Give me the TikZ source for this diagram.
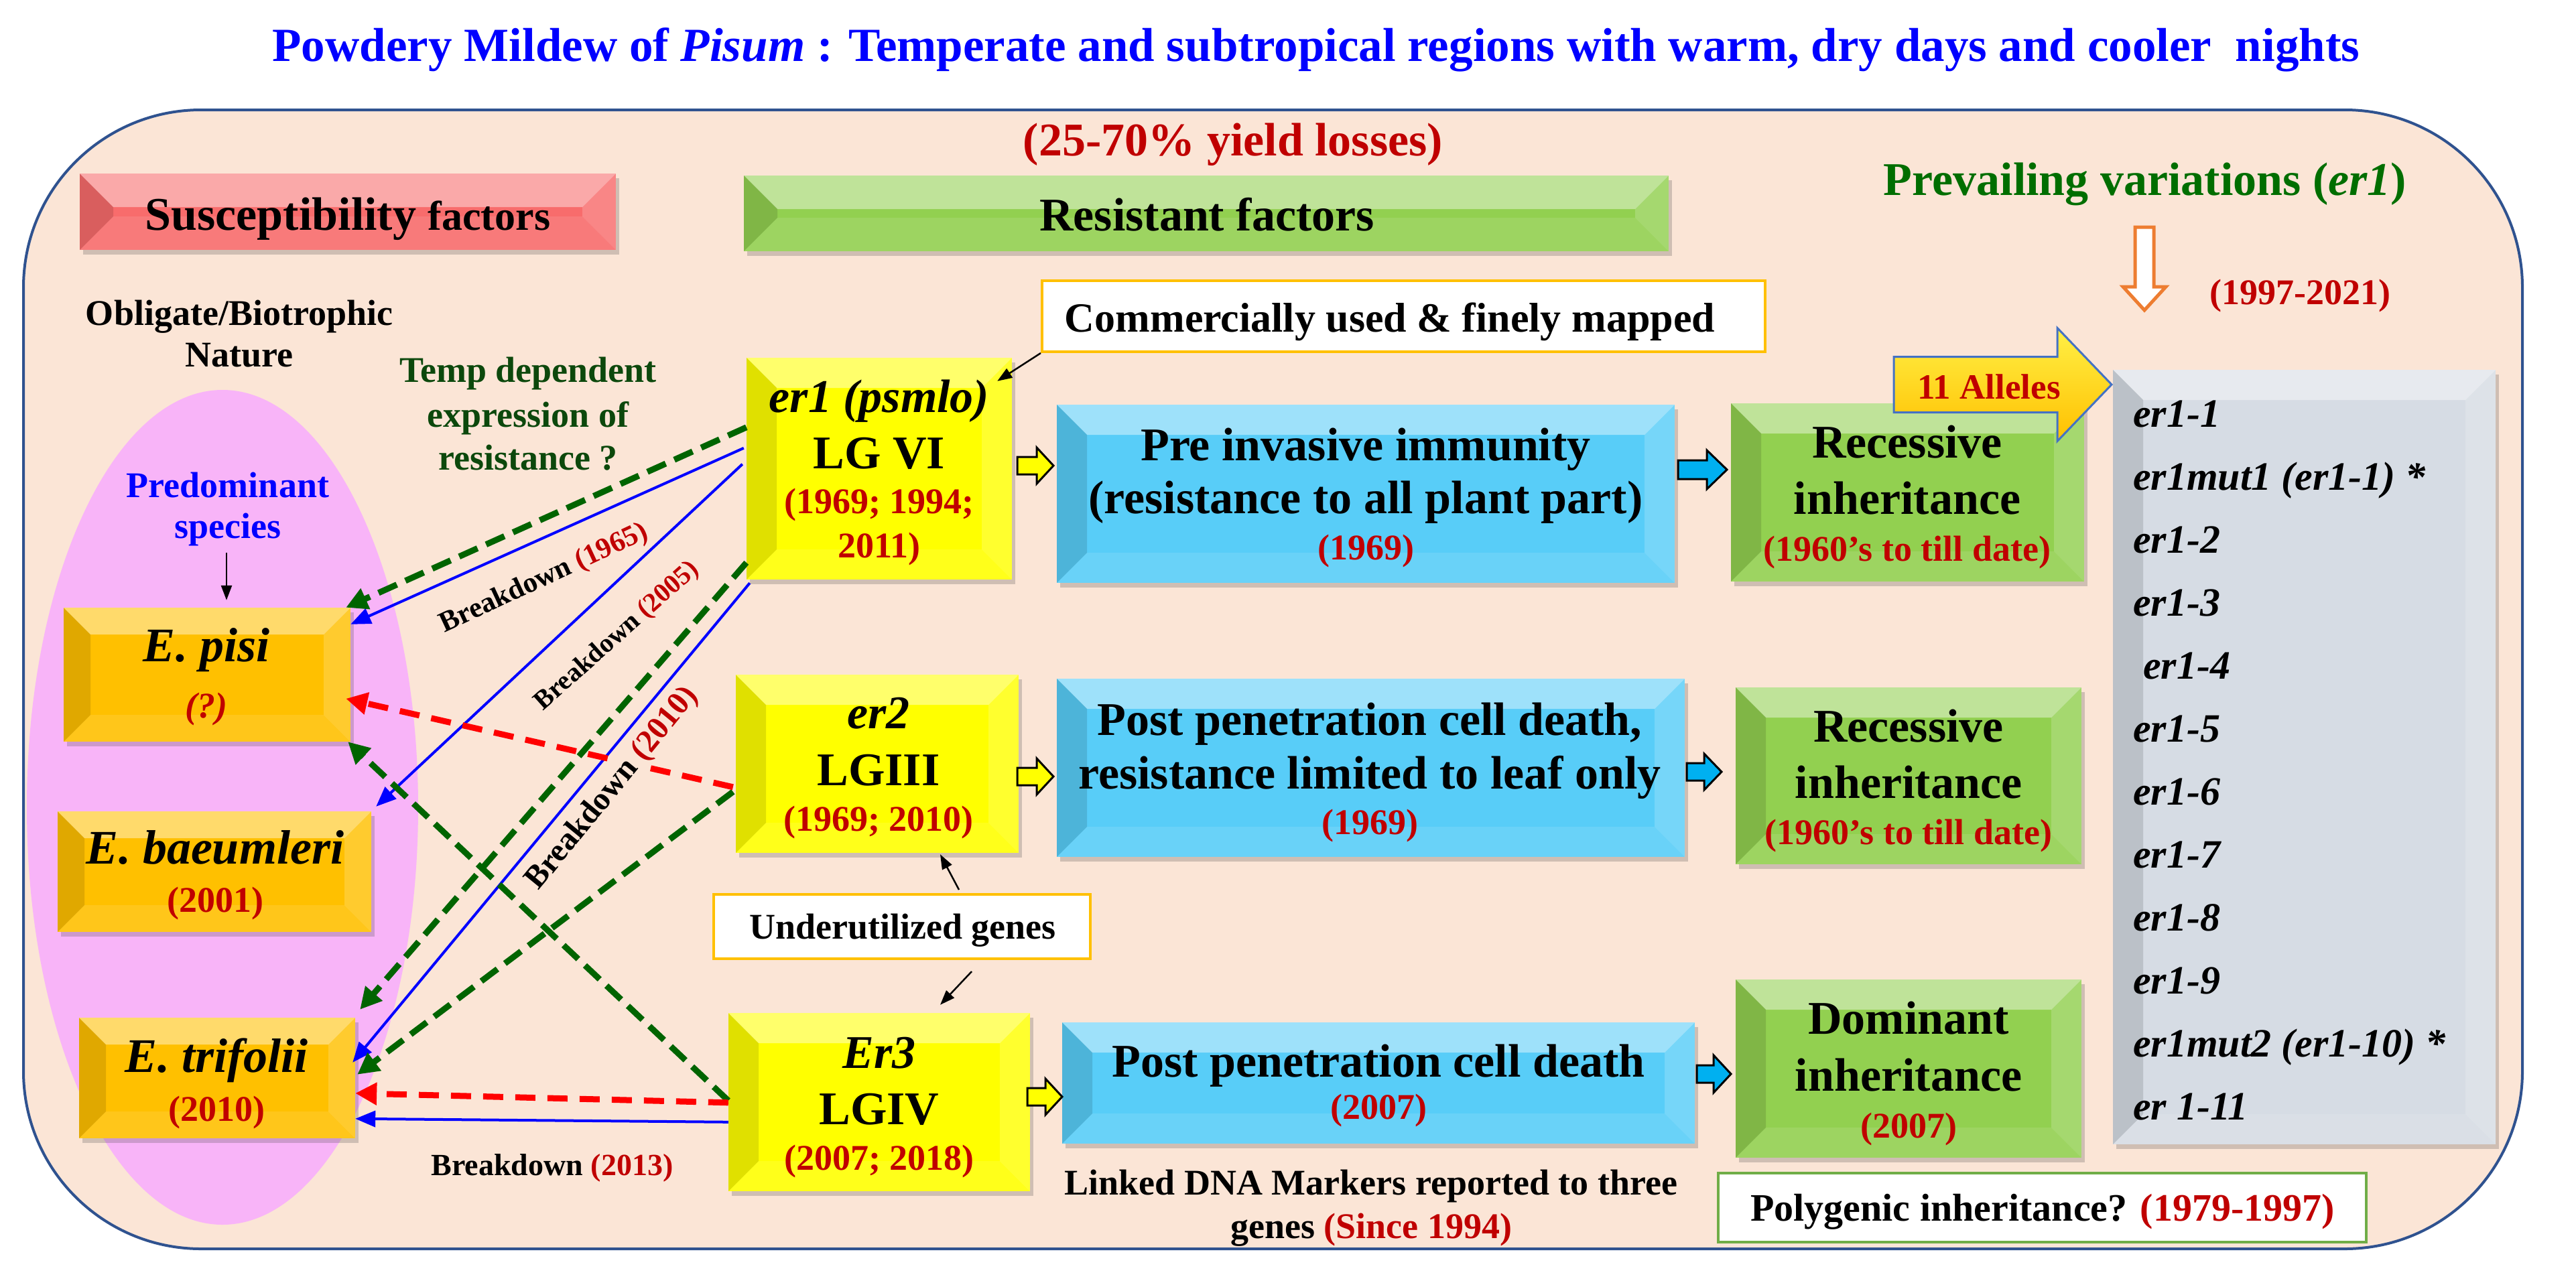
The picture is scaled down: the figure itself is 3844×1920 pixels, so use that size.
\documentclass[tikz,border=0pt]{standalone}
\usepackage{fontspec}
\setmainfont{Liberation Serif}
\usetikzlibrary{arrows.meta,shadows,calc}
\definecolor{tblue}{RGB}{0,0,255}
\definecolor{dred}{RGB}{192,0,0}
\definecolor{peach}{RGB}{251,229,214}
\definecolor{frameblue}{RGB}{47,82,143}
\definecolor{pgreen}{RGB}{0,110,0}
\definecolor{tgreen}{RGB}{12,72,12}
\definecolor{dgreen}{RGB}{0,100,0}
\definecolor{rdashc}{RGB}{255,0,0}
\definecolor{ybox}{RGB}{255,255,0}
\definecolor{cbox}{RGB}{88,205,248}
\definecolor{gbox}{RGB}{146,208,80}
\definecolor{rbox}{RGB}{248,108,108}
\definecolor{obox}{RGB}{255,192,0}
\definecolor{sbox}{RGB}{214,220,228}
\definecolor{pinkc}{RGB}{248,180,248}
\definecolor{oarrow}{RGB}{237,125,49}
\definecolor{ablue}{RGB}{68,114,196}
\definecolor{cyarrow}{RGB}{0,176,240}
\definecolor{borderY}{RGB}{255,192,0}
\definecolor{borderG}{RGB}{112,173,71}
\definecolor{allyel}{RGB}{255,240,70}
\newcommand\fs[1]{\fontsize{#1}{#1}\selectfont}
\def\bevw{45pt}
\newcommand\bevelpic{%
  \path (path picture bounding box.north west) coordinate (pNW)
        (path picture bounding box.north east) coordinate (pNE)
        (path picture bounding box.south west) coordinate (pSW)
        (path picture bounding box.south east) coordinate (pSE);
  \fill[white,opacity=.42] (pNW) -- (pNE) -- ([shift={(-\bevw,-\bevw)}]pNE) -- ([shift={(\bevw,-\bevw)}]pNW) -- cycle;
  \fill[black,opacity=.12] (pNW) -- ([shift={(\bevw,-\bevw)}]pNW) -- ([shift={(\bevw,\bevw)}]pSW) -- (pSW) -- cycle;
  \fill[white,opacity=.18] (pNE) -- (pSE) -- ([shift={(-\bevw,\bevw)}]pSE) -- ([shift={(-\bevw,-\bevw)}]pNE) -- cycle;
  \fill[white,opacity=.10] (pSW) -- ([shift={(\bevw,\bevw)}]pSW) -- ([shift={(-\bevw,\bevw)}]pSE) -- (pSE) -- cycle;
}
\newcommand\blockarr[7]{\draw[#1] (#2,{#3-#5}) -- ({#2+#4-#7},{#3-#5}) -- ({#2+#4-#7},{#3-#6}) -- ({#2+#4},#3) -- ({#2+#4-#7},{#3+#6}) -- ({#2+#4-#7},{#3+#5}) -- (#2,{#3+#5}) -- cycle;}
\tikzset{
  txt/.style={inner sep=0pt, anchor=base, font=\bfseries},
  brk/.style={inner sep=1pt, anchor=center, font=\bfseries},
  wh/.style 2 args={minimum width=#1pt, minimum height=#2pt},
  bev/.code={\def\bevw{#1}},
  bx/.style={inner sep=0pt, fill=#1, path picture={\bevelpic},
    drop shadow={shadow xshift=5pt, shadow yshift=-7pt, opacity=.25, fill=black!70}},
  wbox/.style={draw=#1, line width=4pt, fill=white, inner sep=0pt},
  bline/.style={draw=tblue, line width=4pt, -{Triangle[length=30pt,width=24pt]}},
  gdash/.style={draw=dgreen, line width=9pt, dash pattern=on 30pt off 14pt, -{Triangle[length=32pt,width=32pt]}},
  rdash/.style={draw=rdashc, line width=9pt, dash pattern=on 30pt off 18pt, -{Triangle[length=32pt,width=32pt]}},
  barr/.style={draw=black, line width=2.5pt, -{Triangle[length=22pt,width=16pt]}},
  yarr/.style={draw=black, line width=3pt, fill=ybox, line join=miter},
  carr/.style={draw=black, line width=3pt, fill=cyarrow, line join=miter},
  aarr/.style={draw=ablue, line width=3pt, top color=allyel, bottom color=obox, line join=miter},
}
\begin{document}
\begin{tikzpicture}[x=1pt,y=-1pt]
\useasboundingbox (0,0) rectangle (3844,1920);
% frame
\node[draw=frameblue, line width=4pt, fill=peach, rounded corners=265pt, inner sep=0pt, wh={3729}{1700}] (frame) at (1899.5,1014) {};
% ellipse
\fill[pinkc] (332,1205) ellipse [x radius=292pt, y radius=623pt];
% boxes
\node[bx=rbox, bev=50pt, wh={800}{114}] (sus) at (519,316) {};
\node[bx=gbox, bev=50pt, wh={1380}{113}] (res) at (1800,318.5) {};
\node[wbox=borderY, wh={1079}{106}] (comm) at (2094.5,472) {};
\node[bx=ybox, wh={396}{331}] (er1) at (1312,699.5) {};
\node[bx=cbox, wh={922}{266}] (c1) at (2038,737) {};
\node[bx=gbox, wh={527}{266}] (g1) at (2846.5,735) {};
\node[bx=sbox, wh={571}{1156}] (gray) at (3438.5,1130) {};
\node[bx=ybox, wh={422}{266}] (er2) at (1309,1140) {};
\node[bx=cbox, wh={937}{266}] (c2) at (2045.5,1146) {};
\node[bx=gbox, wh={516}{264}] (g2) at (2848,1158) {};
\node[wbox=borderY, wh={562}{96}] (under) at (1346,1383) {};
\node[bx=ybox, wh={450}{266}] (er3) at (1312,1645) {};
\node[bx=cbox, wh={944}{181}] (c3) at (2057,1616.5) {};
\node[bx=gbox, wh={516}{266}] (g3) at (2848,1595) {};
\node[wbox=borderG, wh={967}{103}] (poly) at (3047.5,1802.5) {};
\node[bx=obox, bev=40pt, wh={428}{200}] (episi) at (309,1007) {};
\node[bx=obox, bev=40pt, wh={468}{180}] (ebaeu) at (320,1301) {};
\node[bx=obox, bev=40pt, wh={412}{180}] (etrif) at (324,1609) {};
% block arrows
\blockarr{yarr}{1518}{695}{54}{13}{27}{25}
\blockarr{yarr}{1518}{1159}{54}{13}{27}{25}
\blockarr{yarr}{1533}{1637}{52}{13}{27}{25}
\blockarr{carr}{2504}{701}{73}{14}{29}{30}
\blockarr{carr}{2517}{1152}{52}{13}{27}{26}
\blockarr{carr}{2532}{1603}{51}{13}{28}{26}
\blockarr{aarr}{2826}{574}{325}{41.5}{84.5}{81}
\draw[oarrow, line width=5pt, fill=white, line join=miter] (3186,339) -- (3214,339) -- (3214,428) -- (3232,428) -- (3200,463) -- (3168,428) -- (3186,428) -- cycle;
% texts
\node[txt, text=tblue] (title) at (1964,91) {\fs{71}Powdery Mildew of \textit{Pisum} : Temperate and subtropical regions with warm, dry days and cooler\ \ nights};
\node[txt, text=dred] (loss) at (1840,232) {\fs{70}(25-70\% yield losses)};
\node[txt] (sust) at (519,343) {\fs{70}Susceptibility \fs{62}factors};
\node[txt] (rest) at (1801,344) {\fs{70}Resistant factors};
\node[txt, text=pgreen] (prevt) at (3201,291) {\fs{70}Prevailing variations (\textit{er1})};
\node[txt, text=dred] (yrs) at (3432,454) {\fs{54}(1997-2021)};
\node[txt, text=dred] (allt) at (2968,595) {\fs{53}11 Alleles};
\node[txt, anchor=base west] (al0) at (3183,637) {\fs{60}\itshape er1-1};
\node[txt, anchor=base west] (al1) at (3183,731) {\fs{60}\itshape er1mut1 (er1-1) *};
\node[txt, anchor=base west] (al2) at (3183,825) {\fs{60}\itshape er1-2};
\node[txt, anchor=base west] (al3) at (3183,919) {\fs{60}\itshape er1-3};
\node[txt, anchor=base west] (al4) at (3198,1013) {\fs{60}\itshape er1-4};
\node[txt, anchor=base west] (al5) at (3183,1107) {\fs{60}\itshape er1-5};
\node[txt, anchor=base west] (al6) at (3183,1201) {\fs{60}\itshape er1-6};
\node[txt, anchor=base west] (al7) at (3183,1295) {\fs{60}\itshape er1-7};
\node[txt, anchor=base west] (al8) at (3183,1389) {\fs{60}\itshape er1-8};
\node[txt, anchor=base west] (al9) at (3183,1483) {\fs{60}\itshape er1-9};
\node[txt, anchor=base west] (al10) at (3183,1577) {\fs{60}\itshape er1mut2 (er1-10) *};
\node[txt, anchor=base west] (al11) at (3183,1671) {\fs{60}\itshape er 1-11};
\node[txt] (polyt) at (3048,1822) {\fs{58}Polygenic inheritance? \textcolor{dred}{(1979-1997)}};
% green box texts
\node[txt] (g1a) at (2846,683) {\fs{70}Recessive};
\node[txt] (g1b) at (2846,767) {\fs{70}inheritance};
\node[txt, text=dred] (g1c) at (2846,837) {\fs{54}(1960’s to till date)};
\node[txt] (g2a) at (2848,1107) {\fs{70}Recessive};
\node[txt] (g2b) at (2848,1191) {\fs{70}inheritance};
\node[txt, text=dred] (g2c) at (2848,1260) {\fs{54}(1960’s to till date)};
\node[txt] (g3a) at (2848,1543) {\fs{70}Dominant};
\node[txt] (g3b) at (2848,1628) {\fs{70}inheritance};
\node[txt, text=dred] (g3c) at (2848,1698) {\fs{54}(2007)};
% cyan box texts
\node[txt] (c1a) at (2038,687) {\fs{70}Pre invasive immunity};
\node[txt] (c1b) at (2038,766) {\fs{70}(resistance to all plant part)};
\node[txt, text=dred] (c1c) at (2038,835) {\fs{54}(1969)};
\node[txt] (c2a) at (2044,1097) {\fs{70}Post penetration cell death,};
\node[txt] (c2b) at (2044,1177) {\fs{70}resistance limited to leaf only};
\node[txt, text=dred] (c2c) at (2044,1245) {\fs{54}(1969)};
\node[txt] (c3a) at (2057,1607) {\fs{70}Post penetration cell death};
\node[txt, text=dred] (c3b) at (2057,1670) {\fs{54}(2007)};
% yellow box texts
\node[txt] (y1a) at (1312,615) {\fs{70}\textit{er1 (psmlo)}};
\node[txt] (y1b) at (1312,699) {\fs{70}LG VI};
\node[txt, text=dred] (y1c) at (1312,766) {\fs{54}(1969; 1994;};
\node[txt, text=dred] (y1d) at (1312,832) {\fs{54}2011)};
\node[txt] (y2a) at (1311,1087) {\fs{70}\textit{er2}};
\node[txt] (y2b) at (1311,1172) {\fs{70}LGIII};
\node[txt, text=dred] (y2c) at (1311,1240) {\fs{54}(1969; 2010)};
\node[txt] (y3a) at (1312,1594) {\fs{70}\textit{Er3}};
\node[txt] (y3b) at (1312,1678) {\fs{70}LGIV};
\node[txt, text=dred] (y3c) at (1312,1746) {\fs{54}(2007; 2018)};
% white box texts
\node[txt] (commt) at (2074,495) {\fs{62}Commercially used \& finely mapped};
\node[txt] (undert) at (1347,1401) {\fs{54}Underutilized genes};
\node[txt] (link1) at (2046,1783) {\fs{54}Linked DNA Markers reported to three};
\node[txt] (link2) at (2046,1848) {\fs{54}genes \textcolor{dred}{(Since 1994)}};
% left texts
\node[txt] (obl1) at (357,485) {\fs{54}Obligate/Biotrophic};
\node[txt] (obl2) at (357,547) {\fs{54}Nature};
\node[txt, text=tgreen] (tmp1) at (788,570) {\fs{54}Temp dependent};
\node[txt, text=tgreen] (tmp2) at (788,637) {\fs{54}expression of};
\node[txt, text=tgreen] (tmp3) at (788,701) {\fs{54}resistance ?};
\node[txt, text=tblue] (pred) at (340,742) {\fs{54}Predominant};
\node[txt, text=tblue] (spec) at (340,803) {\fs{54}species};
\node[txt] (ep1) at (308,987) {\fs{72}\textit{E. pisi}};
\node[txt, text=dred] (ep2) at (308,1071) {\fs{54}\textit{(?)}};
\node[txt] (eb1) at (321,1289) {\fs{72}\textit{E. baeumleri}};
\node[txt, text=dred] (eb2) at (321,1361) {\fs{54}(2001)};
\node[txt] (et1) at (323,1600) {\fs{72}\textit{E. trifolii}};
\node[txt, text=dred] (et2) at (323,1673) {\fs{54}(2010)};
% connectors
\draw[bline] ([yshift=-135pt,xshift=-4pt]er1.north west) -- ([yshift=-25pt]episi.north east);
\draw[bline] ([yshift=-159pt,xshift=-6pt]er1.north west) -- ([xshift=7pt,yshift=7pt]ebaeu.north east);
\draw[bline] ([xshift=5pt,yshift=-5pt]er1.south west) -- ([yshift=-67pt,xshift=-4pt]etrif.north east);
\draw[bline] ([yshift=-163pt]er3.north west) -- ([yshift=-151pt]etrif.north east);
\draw[gdash] ([yshift=-104pt]er1.north west) -- ([xshift=-7pt]episi.north east);
\draw[gdash] ([yshift=-306pt]er1.north west) -- ([xshift=7pt,yshift=12pt]etrif.north east);
\draw[gdash] ([xshift=-4pt,yshift=-175pt]er2.north west) -- ([xshift=3pt,yshift=-85pt]etrif.north east);
\draw[gdash] ([yshift=-131pt]er3.north west) -- ([xshift=-4pt]episi.south east);
\draw[rdash] ([xshift=-4pt,yshift=-168pt]er2.north west) -- ([xshift=-7pt,yshift=-136pt]episi.north east);
\draw[rdash] ([yshift=-134pt]er3.north west) -- ([yshift=-113pt]etrif.north east);
\draw[barr] (comm.south west) -- ([xshift=-22pt,yshift=-35pt]er1.north east);
\draw[barr] ([xshift=85pt,yshift=5pt]under.north) -- ([xshift=94pt,yshift=-2pt]er2.south);
\draw[barr] ([xshift=104pt,yshift=-17pt]under.south) -- ([xshift=91pt,yshift=12pt]er3.north);
\draw[barr] ([xshift=-2pt,yshift=-10pt]spec.south) -- ([xshift=29pt,yshift=11pt]episi.north);
% breakdown labels
\node[brk, rotate=25] (b1) at (812,864) {\fs{43}Breakdown \textcolor{dred}{(1965)}};
\node[brk, rotate=41.6] (b2) at (921,950) {\fs{40}Breakdown \textcolor{dred}{(2005)}};
\node[brk, rotate=50.7, fill=peach] (b3) at (914,1177) {\fs{48}Breakdown \textcolor{dred}{(2010)}};
\node[txt] (b4) at (824,1754) {\fs{46}Breakdown \textcolor{dred}{(2013)}};
\end{tikzpicture}
\end{document}
